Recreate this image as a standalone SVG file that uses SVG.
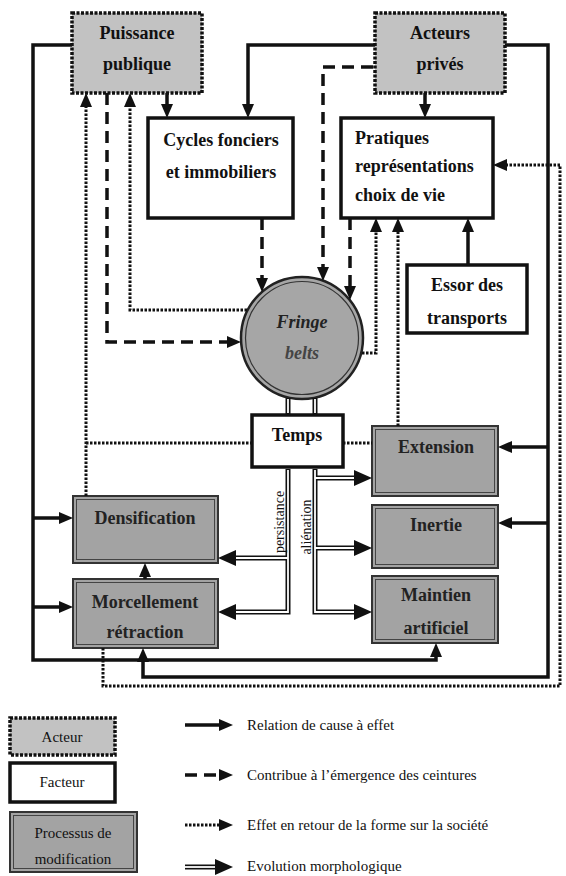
<svg xmlns="http://www.w3.org/2000/svg" width="566" height="876" viewBox="0 0 566 876" font-family="Liberation Serif, serif">
<style>
  text { fill: #111; }
  .lbl { font-size: 18px; font-weight: bold; text-anchor: middle; }
  .lbll { font-size: 18px; font-weight: bold; text-anchor: start; }
  .leg { font-size: 15px; }
  .legc { font-size: 15px; text-anchor: middle; }
  .vt { font-size: 14px; text-anchor: middle; }
  .actor { fill: #c2c2c2; stroke: #111; stroke-width: 3.5; stroke-dasharray: 3 1.5; }
  .factor { fill: #fff; stroke: #111; stroke-width: 3.5; }
  .proc { fill: #a3a3a3; stroke: #333; stroke-width: 2; }
  .proci { fill: none; stroke: #444; stroke-width: 1; }
  .s { fill: none; stroke: #111; stroke-width: 3.5; }
  .d { fill: none; stroke: #111; stroke-width: 3.5; stroke-dasharray: 12 7; }
  .o { fill: none; stroke: #111; stroke-width: 3; stroke-dasharray: 2.5 1.5; }
  .mb { fill: none; stroke: #111; stroke-width: 5; }
  .mw { fill: none; stroke: #fff; stroke-width: 1.8; }
</style>
<defs>
  <marker id="ah" viewBox="0 0 14 12" refX="4" refY="6" markerWidth="14" markerHeight="12" markerUnits="userSpaceOnUse" orient="auto">
    <path d="M0,0 L14,6 L0,12 z" fill="#111"/>
  </marker>
  <marker id="ahb" viewBox="0 0 18 16" refX="4" refY="8" markerWidth="18" markerHeight="16" markerUnits="userSpaceOnUse" orient="auto">
    <path d="M0,0 L18,8 L0,16 z" fill="#111"/>
  </marker>
</defs>

<g id="puissance">
  <rect class="actor" x="72" y="13" width="130" height="80"/>
  <text class="lbl" x="137" y="39">Puissance</text>
  <text class="lbl" x="137" y="70">publique</text>
</g>
<g id="acteurs">
  <rect class="actor" x="375" y="13" width="130" height="80"/>
  <text class="lbl" x="440" y="39">Acteurs</text>
  <text class="lbl" x="440" y="70">privés</text>
</g>
<g id="cycles">
  <rect class="factor" x="148" y="118" width="145" height="100"/>
  <text class="lbl" x="221" y="146">Cycles fonciers</text>
  <text class="lbl" x="221" y="178">et immobiliers</text>
</g>
<g id="pratiques">
  <rect class="factor" x="341" y="118" width="152" height="100"/>
  <text class="lbll" x="355" y="144">Pratiques</text>
  <text class="lbll" x="355" y="172">représentations</text>
  <text class="lbll" x="355" y="201">choix de vie</text>
</g>
<g id="fringe">
  <circle cx="302" cy="338" r="61" fill="#a6a6a6" stroke="#222" stroke-width="2.5"/>
  <circle cx="302" cy="338" r="56.5" fill="none" stroke="#333" stroke-width="1.2"/>
  <text class="lbl" x="302" y="328" font-style="italic" style="fill:#222">Fringe</text>
  <text class="lbl" x="302" y="359" font-style="italic" style="fill:#444">belts</text>
</g>
<g id="essor">
  <rect class="factor" x="407" y="265" width="120" height="68"/>
  <text class="lbl" x="467" y="291">Essor des</text>
  <text class="lbl" x="467" y="324">transports</text>
</g>
<g id="temps">
  <rect class="factor" x="252" y="415" width="91" height="52"/>
  <text class="lbl" x="297" y="441">Temps</text>
</g>
<g id="extension">
  <rect class="proc" x="372" y="426" width="126" height="70"/>
  <rect class="proci" x="375.5" y="429.5" width="119" height="63"/>
  <text class="lbl" x="436" y="453" style="fill:#222">Extension</text>
</g>
<g id="inertie">
  <rect class="proc" x="372" y="505" width="126" height="63"/>
  <rect class="proci" x="375.5" y="508.5" width="119" height="56"/>
  <text class="lbl" x="436" y="531" style="fill:#222">Inertie</text>
</g>
<g id="maintien">
  <rect class="proc" x="372" y="576" width="126" height="67"/>
  <rect class="proci" x="375.5" y="579.5" width="119" height="60"/>
  <text class="lbl" x="436" y="601" style="fill:#222">Maintien</text>
  <text class="lbl" x="436" y="634" style="fill:#222">artificiel</text>
</g>
<g id="densification">
  <rect class="proc" x="73" y="496" width="145" height="67"/>
  <rect class="proci" x="76.5" y="499.5" width="138" height="60"/>
  <text class="lbl" x="145" y="524" style="fill:#222">Densification</text>
</g>
<g id="morcellement">
  <rect class="proc" x="73" y="579" width="145" height="69"/>
  <rect class="proci" x="76.5" y="582.5" width="138" height="62"/>
  <text class="lbl" x="145" y="608" style="fill:#222">Morcellement</text>
  <text class="lbl" x="145" y="638" style="fill:#222">rétraction</text>
</g>

<g id="connectors">
  <path class="s" d="M167,93 V108" marker-end="url(#ah)"/>
  <path class="s" d="M375,45 H248 V108" marker-end="url(#ah)"/>
  <path class="s" d="M425,93 V108" marker-end="url(#ah)"/>
  <path class="s" d="M72,45 H33 V660 H436 V653" marker-end="url(#ah)"/>
  <path class="s" d="M33,518 H63" marker-end="url(#ah)"/>
  <path class="s" d="M33,607 H63" marker-end="url(#ah)"/>
  <path class="s" d="M505,45 H548 V677 H143 V658" marker-end="url(#ah)"/>
  <path class="s" d="M548,447 H508" marker-end="url(#ah)"/>
  <path class="s" d="M548,523 H508" marker-end="url(#ah)"/>
  <path class="s" d="M468,265 V228" marker-end="url(#ah)"/>
  <path class="s" d="M145,579 V573" marker-end="url(#ah)"/>
  <path class="d" d="M262,218 V282" marker-end="url(#ah)"/>
  <path class="d" d="M373,67 H323 V271" marker-end="url(#ah)"/>
  <path class="d" d="M350,218 V290" marker-end="url(#ah)"/>
  <path class="d" d="M107,93 V342 H231" marker-end="url(#ah)"/>
  <path class="o" d="M247,310 H130 V103" marker-end="url(#ah)"/>
  <path class="o" d="M86,496 V103" marker-end="url(#ah)"/>
  <path class="o" d="M86,443 H252"/>
  <path class="o" d="M343,443 H372"/>
  <path class="o" d="M362,353 H376 V228" marker-end="url(#ah)"/>
  <path class="o" d="M398,426 V228" marker-end="url(#ah)"/>
  <path class="o" d="M103,648 V686 H560 V165 H503" marker-end="url(#ah)"/>
  <path class="mb" d="M288,398 V414"/>
  <path class="mb" d="M315,398 V414"/>
  <path class="mb" d="M288,469 V612 H232" marker-end="url(#ahb)"/>
  <path class="mb" d="M288,558 H232" marker-end="url(#ahb)"/>
  <path class="mb" d="M315,469 V612 H358" marker-end="url(#ahb)"/>
  <path class="mb" d="M315,478 H358" marker-end="url(#ahb)"/>
  <path class="mb" d="M315,548 H358" marker-end="url(#ahb)"/>
  <path class="mw" d="M288,399 V413"/>
  <path class="mw" d="M315,399 V413"/>
  <path class="mw" d="M288,470 V612 H236"/>
  <path class="mw" d="M288,558 H236"/>
  <path class="mw" d="M315,470 V612 H354"/>
  <path class="mw" d="M315,478 H354"/>
  <path class="mw" d="M315,548 H354"/>
  <text class="vt" transform="translate(284,522) rotate(-90)">persistance</text>
  <text class="vt" transform="translate(311,527) rotate(-90)">aliénation</text>
</g>

<g id="legend">
  <g id="leg-acteur">
    <rect class="actor" x="10" y="718" width="105" height="37"/>
    <text class="legc" x="62" y="742">Acteur</text>
  </g>
  <g id="leg-facteur">
    <rect class="factor" x="10" y="763" width="105" height="39"/>
    <text class="legc" x="62" y="787">Facteur</text>
  </g>
  <g id="leg-processus">
    <rect class="proc" x="10" y="812" width="127" height="60"/>
    <rect class="proci" x="13.5" y="815.5" width="120" height="53"/>
    <text class="legc" x="73" y="838">Processus de</text>
    <text class="legc" x="73" y="864">modification</text>
  </g>
  <path class="s" d="M185,725 H223" marker-end="url(#ah)"/>
  <path class="d" d="M185,775 H223" marker-end="url(#ah)"/>
  <path class="o" d="M185,825 H223" marker-end="url(#ah)"/>
  <path class="mb" d="M185,867 H219" marker-end="url(#ahb)"/>
  <path class="mw" d="M185,867 H215"/>
  <text class="leg" x="247" y="730">Relation de cause à effet</text>
  <text class="leg" x="247" y="780">Contribue à l’émergence des ceintures</text>
  <text class="leg" x="247" y="830">Effet en retour de la forme sur la société</text>
  <text class="leg" x="247" y="871">Evolution morphologique</text>
</g>
</svg>
